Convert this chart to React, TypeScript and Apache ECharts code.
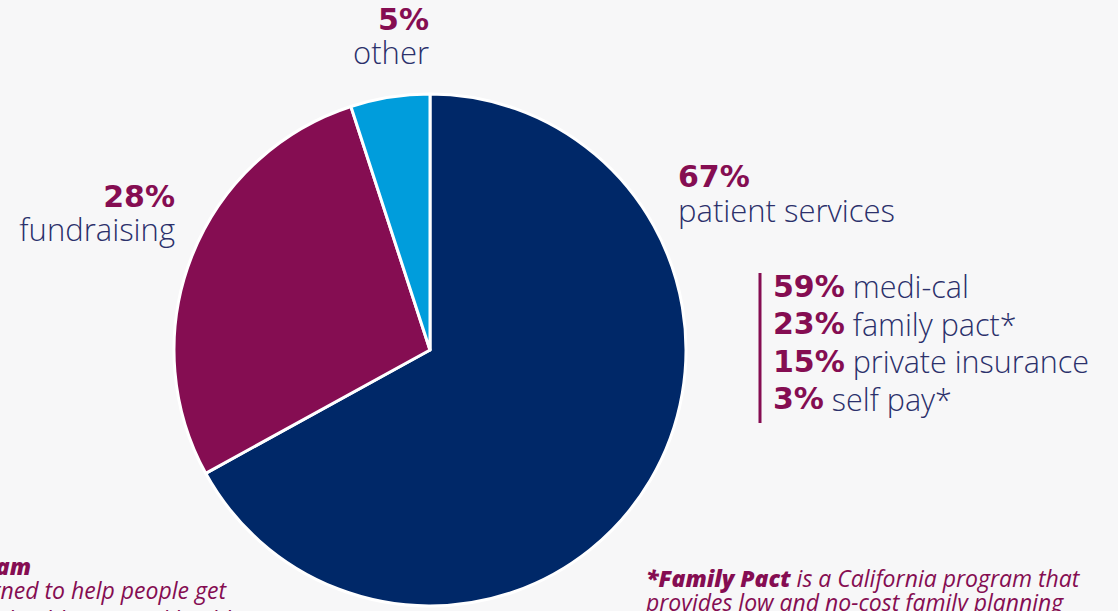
import React, { useEffect, useRef } from "react";
import * as echarts from "echarts";

const categories = ["patient services", "fundraising", "other"];
const values = [67, 28, 5];
const colors = ["#002868", "#850d52", "#009ddc"];

const subCategories = ["medi-cal", "family pact*", "private insurance", "self pay*"];
const subValues = [59, 23, 15, 3];

const MAROON = "#850d52";
const NAVY_TEXT = "#2b306b";
const PCT_FONT = "'DejaVu Sans', sans-serif";
const FONT = "'Open Sans', Lato, sans-serif";

export default function App() {
  const ref = useRef<HTMLDivElement>(null);
  useEffect(() => {
    if (!ref.current) return;
    const chart = echarts.init(ref.current, null, { renderer: "svg" });

    const pctStyle = { fontFamily: PCT_FONT, fontWeight: 900, fontSize: 30, fill: MAROON, lineHeight: 30 };
    const nameStyle = { fontFamily: FONT, fontWeight: 300, fontSize: 31, fill: NAVY_TEXT, lineHeight: 30 };

    const anchors = [
      { x: 678, pctY: 176, nameY: 210, align: "left" },
      { x: 175, pctY: 196, nameY: 229, align: "right" },
      { x: 429, pctY: 19, nameY: 52, align: "right" },
    ];

    const labelGraphics: any[] = [];
    categories.forEach((c, i) => {
      const a = anchors[i];
      labelGraphics.push({
        type: "text",
        x: a.x,
        y: a.pctY,
        style: { ...pctStyle, text: values[i] + "%", align: a.align, verticalAlign: "middle" },
      });
      labelGraphics.push({
        type: "text",
        x: a.x,
        y: a.nameY,
        style: { ...nameStyle, text: c, align: a.align, verticalAlign: "middle" },
      });
    });

    const listTop = 286;
    const listStep = 37.5;
    subCategories.forEach((c, i) => {
      labelGraphics.push({
        type: "text",
        x: 773,
        y: listTop + i * listStep,
        style: {
          text: `{p|${subValues[i]}%}{n| ${c}}`,
          verticalAlign: "middle",
          align: "left",
          rich: {
            p: { fontFamily: PCT_FONT, fontWeight: 900, fontSize: 30, fill: MAROON, color: MAROON, lineHeight: 34 },
            n: { fontFamily: FONT, fontWeight: 300, fontSize: 30.5, fill: NAVY_TEXT, color: NAVY_TEXT, lineHeight: 34 },
          },
        },
      });
    });

    labelGraphics.push({
      type: "line",
      shape: { x1: 760, y1: 273, x2: 760, y2: 423 },
      style: { stroke: MAROON, lineWidth: 3 },
    });

    const noteRich = {
      b: { fontFamily: FONT, fontStyle: "italic", fontWeight: 800, fontSize: 23, fill: MAROON, color: MAROON, lineHeight: 20 },
      i: { fontFamily: FONT, fontStyle: "italic", fontWeight: 400, fontSize: 23, fill: MAROON, color: MAROON, lineHeight: 20 },
    };

    labelGraphics.push({
      type: "text",
      x: 646,
      y: 578,
      style: { text: "{b|*Family Pact}{i| is a California program that}", rich: noteRich, verticalAlign: "middle", align: "left" },
    });
    labelGraphics.push({
      type: "text",
      x: 646,
      y: 602,
      style: { text: "{i|provides low and no-cost family planning}", rich: noteRich, verticalAlign: "middle", align: "left" },
    });
    labelGraphics.push({
      type: "text",
      x: 31,
      y: 566,
      style: { text: "{b|*Medi-Cal program}", rich: noteRich, verticalAlign: "middle", align: "right" },
    });
    labelGraphics.push({
      type: "text",
      x: 226,
      y: 590,
      style: { text: "{i|is a program designed to help people get}", rich: noteRich, verticalAlign: "middle", align: "right" },
    });
    labelGraphics.push({
      type: "text",
      x: 238,
      y: 619,
      style: { text: "{i|free or low-cost health care and health}", rich: noteRich, verticalAlign: "middle", align: "right" },
    });

    chart.setOption({
      animation: false,
      backgroundColor: "#f7f7f8",
      series: [
        {
          type: "pie",
          center: [430, 350],
          radius: [0, 256],
          startAngle: 90,
          clockwise: true,
          label: { show: false },
          labelLine: { show: false },
          itemStyle: { borderColor: "#ffffff", borderWidth: 3 },
          emphasis: { disabled: true },
          data: categories.map((c, i) => ({
            name: c,
            value: values[i],
            itemStyle: { color: colors[i] },
          })),
        },
      ],
      graphic: labelGraphics,
    });
    return () => chart.dispose();
  }, []);
  return (
    <div
      ref={ref}
      style={{ position: "fixed", left: 0, top: 0, width: 1118, height: 611 }}
    />
  );
}
